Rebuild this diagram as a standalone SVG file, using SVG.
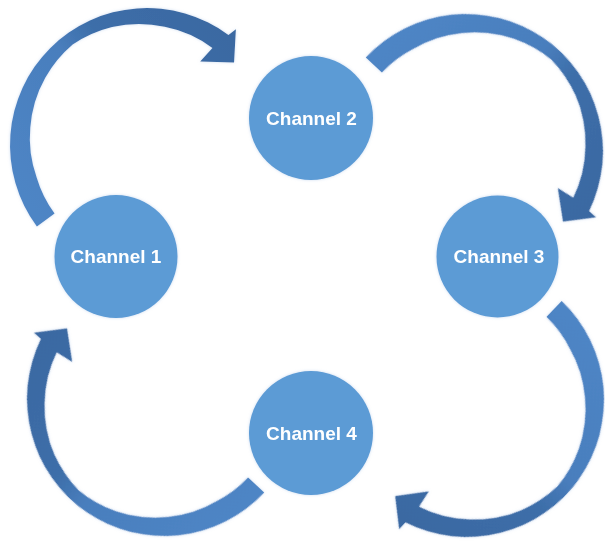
<svg xmlns="http://www.w3.org/2000/svg" xmlns:xlink="http://www.w3.org/1999/xlink" width="605" height="542" viewBox="0 0 605 542">
  <style>
    .node { fill: #5b9bd5; }
    .label { fill: #ffffff; font-family: "Liberation Sans", Arial, sans-serif; font-weight: bold; font-size: 19px; text-anchor: middle; }
  </style>
  <defs>
    <linearGradient id="ag" gradientUnits="userSpaceOnUse" x1="130" y1="0" x2="-130" y2="0">
      <stop offset="0" stop-color="#4e85c5"/>
      <stop offset="0.45" stop-color="#497ebd"/>
      <stop offset="0.6" stop-color="#3d6ea9"/>
      <stop offset="1" stop-color="#3a69a2"/>
    </linearGradient>
    <filter id="soft" x="-10%" y="-10%" width="120%" height="120%">
      <feGaussianBlur in="SourceAlpha" stdDeviation="1.5" result="b"/>
      <feFlood flood-color="#a9c4e6" flood-opacity="0.6"/>
      <feComposite in2="b" operator="in" result="g"/>
      <feMerge><feMergeNode in="g"/><feMergeNode in="SourceGraphic"/></feMerge>
    </filter>
    <path id="arrow" fill="url(#ag)" d="M 137 0 A 137 137 0 0 1 -131.0 40.06 L -140.35 40.24 L -119.1 14.62 L -92.42 35.48 L -110.29 39.06 A 118 118 0 0 0 -84.50 84.50 A 121 121 0 0 0 -42.07 115.58 A 124 124 0 0 0 0 125 A 124 124 0 0 0 41.73 114.64 A 120 120 0 0 0 83.44 83.44 A 116 116 0 0 0 108.06 39.33 A 115 115 0 0 0 115 0 Z"/>
  </defs>

  <g id="connectors" filter="url(#soft)">
    <use id="arrow-1-2" xlink:href="#arrow" href="#arrow" transform="translate(147 145) rotate(143.5)"/>
    <use id="arrow-2-3" xlink:href="#arrow" href="#arrow" transform="translate(466 151) rotate(223)"/>
    <use id="arrow-3-4" xlink:href="#arrow" href="#arrow" transform="translate(467 400) rotate(-46.3)"/>
    <use id="arrow-4-1" xlink:href="#arrow" href="#arrow" transform="translate(164 399) rotate(43)"/>
  </g>

  <g id="channel1" filter="url(#soft)">
    <circle class="node" cx="116" cy="256.5" r="61.5"/>
    <text class="label" x="116" y="263">Channel 1</text>
  </g>
  <g id="channel2" filter="url(#soft)">
    <circle class="node" cx="311" cy="118" r="62"/>
    <text class="label" x="311.5" y="125">Channel 2</text>
  </g>
  <g id="channel3" filter="url(#soft)">
    <circle class="node" cx="497.5" cy="256.5" r="61"/>
    <text class="label" x="499" y="263">Channel 3</text>
  </g>
  <g id="channel4" filter="url(#soft)">
    <circle class="node" cx="311" cy="433" r="62"/>
    <text class="label" x="311.5" y="440">Channel 4</text>
  </g>
</svg>
